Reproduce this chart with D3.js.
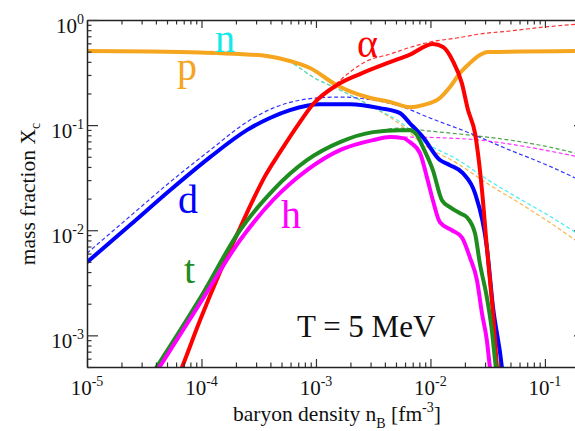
<!DOCTYPE html>
<html>
<head>
<meta charset="utf-8">
<script src="https://cdn.jsdelivr.net/npm/d3@7"></script>
<style>
  html, body { margin: 0; padding: 0; background: #fff; }
  svg { display: block; font-family: "Liberation Serif", "DejaVu Serif", serif; }
</style>
</head>
<body>
<svg id="chart" width="575" height="431"></svg>
<script>
// data: [baryon density n_B (fm^-3), mass fraction X_c]
// solid lines
const protonSolid = [
  [1.00e-5, 0.507], [3.55e-5, 0.501], [9.71e-5, 0.490], [2.17e-4, 0.474], [3.73e-4, 0.454],
  [5.93e-4, 0.407], [8.87e-4, 0.349], [1.52e-3, 0.240], [2.79e-3, 0.185], [4.43e-3, 0.166],
  [6.62e-3, 0.148], [8.59e-3, 0.155], [1.21e-2, 0.181], [1.48e-2, 0.230], [1.81e-2, 0.313],
  [2.21e-2, 0.389], [2.70e-2, 0.464], [3.18e-2, 0.496], [0.202, 0.507]
];
const deuteronSolid = [
  [1.00e-5, 4.96e-3], [2.38e-5, 1.12e-2], [5.31e-5, 2.40e-2], [1.19e-4, 4.96e-2], [2.49e-4, 8.96e-2],
  [3.96e-4, 0.117], [5.93e-4, 0.139], [1.08e-3, 0.158], [1.98e-3, 0.158], [3.62e-3, 0.145],
  [5.42e-3, 0.130], [6.62e-3, 0.104], [8.59e-3, 0.0769], [1.21e-2, 0.0465], [1.48e-2, 0.0416],
  [1.92e-2, 0.0349], [2.45e-2, 0.0225], [3.11e-2, 6.89e-3], [3.52e-2, 1.85e-3], [4.21e-2, 4.95e-4],
  [4.40e-2, 3.00e-4]
];
const tritonSolid = [
  [3.55e-5, 3.98e-4], [9.71e-5, 2.25e-3], [2.17e-4, 1.00e-2], [4.21e-4, 0.0240], [8.34e-4, 0.0464],
  [1.62e-3, 0.0689], [3.15e-3, 0.0858], [5.42e-3, 0.0896], [6.62e-3, 0.0896], [7.62e-3, 0.0803],
  [8.59e-3, 0.0617], [1.05e-2, 0.0373], [1.26e-2, 0.0193], [1.48e-2, 0.0166], [1.81e-2, 0.0145],
  [2.08e-2, 0.0133], [2.45e-2, 9.36e-3], [2.70e-2, 4.85e-3], [3.11e-2, 2.30e-3], [3.44e-2, 1.12e-3],
  [3.73e-2, 4.96e-4], [3.89e-2, 3.73e-4]
];
const helionSolid = [
  [3.77e-5, 3.98e-4], [9.71e-5, 2.02e-3], [2.17e-4, 8.03e-3], [4.21e-4, 0.0193], [8.34e-4, 0.0373],
  [1.62e-3, 0.0578], [3.15e-3, 0.0720], [4.43e-3, 0.0769], [5.75e-3, 0.0752], [6.62e-3, 0.0689],
  [8.10e-3, 0.0541], [9.31e-3, 0.0320], [1.05e-2, 0.0193], [1.21e-2, 0.0119], [1.54e-2, 0.0100],
  [1.88e-2, 8.57e-3], [2.21e-2, 5.53e-3], [2.55e-2, 3.34e-3], [2.82e-2, 1.62e-3], [3.11e-2, 8.96e-4],
  [3.31e-2, 4.96e-4], [3.44e-2, 3.73e-4]
];
const alphaSolid = [
  [6.24e-5, 3.98e-4], [6.76e-5, 4.96e-4], [9.71e-5, 1.39e-3], [1.45e-4, 3.98e-3], [2.17e-4, 1.05e-2],
  [2.76e-4, 1.85e-2], [3.59e-4, 3.27e-2], [4.85e-4, 0.0553], [7.24e-4, 0.107], [9.42e-4, 0.158],
  [1.52e-3, 0.240], [2.42e-3, 0.306], [4.43e-3, 0.398], [6.62e-3, 0.469], [1.05e-2, 0.591],
  [1.29e-2, 0.553], [1.57e-2, 0.407], [1.88e-2, 0.251], [2.13e-2, 0.139], [2.45e-2, 0.0839],
  [2.60e-2, 0.0541], [2.82e-2, 0.0240], [3.11e-2, 6.89e-3], [3.31e-2, 3.34e-3], [3.52e-2, 1.62e-3],
  [3.81e-2, 4.96e-4], [3.97e-2, 2.99e-4]
];

// dashed lines
const neutronDashed = [
  [1.00e-5, 0.507], [3.55e-5, 0.501], [9.71e-5, 0.490], [2.17e-4, 0.474], [3.73e-4, 0.454],
  [5.93e-4, 0.398], [9.42e-4, 0.286], [1.62e-3, 0.216], [3.27e-3, 0.145], [5.42e-3, 0.107],
  [8.59e-3, 0.0704], [1.70e-2, 0.0474], [3.31e-2, 0.0293], [5.47e-2, 0.0211], [0.100, 0.0145],
  [0.202, 8.96e-3]
];
const protonDashed = [
  [1.00e-5, 0.507], [3.55e-5, 0.501], [9.71e-5, 0.490], [2.17e-4, 0.474], [3.73e-4, 0.454],
  [5.93e-4, 0.398], [9.42e-4, 0.286], [1.62e-3, 0.216], [3.27e-3, 0.145], [5.42e-3, 0.102],
  [8.59e-3, 0.0660], [1.70e-2, 0.0435], [3.31e-2, 0.0268], [5.47e-2, 0.0193], [0.100, 0.0127],
  [0.202, 7.52e-3]
];
const deuteronDashed = [
  [1.00e-5, 6.04e-3], [2.38e-5, 1.36e-2], [5.31e-5, 2.87e-2], [1.19e-4, 5.78e-2], [2.49e-4, 0.107],
  [4.21e-4, 0.145], [8.34e-4, 0.177], [1.62e-3, 0.185], [3.15e-3, 0.173], [5.42e-3, 0.152],
  [9.90e-3, 0.117], [2.21e-2, 0.0839], [4.94e-2, 0.0578], [0.100, 0.0425], [0.202, 0.0299]
];
const tritonDashed = [
  [3.55e-5, 3.98e-4], [9.71e-5, 2.25e-3], [2.17e-4, 1.00e-2], [4.21e-4, 0.0240], [8.34e-4, 0.0464],
  [1.62e-3, 0.0689], [3.15e-3, 0.0858], [5.42e-3, 0.0936], [9.90e-3, 0.0877], [2.21e-2, 0.0803],
  [4.94e-2, 0.0720], [0.100, 0.0631], [0.202, 0.0529]
];
const helionDashed = [
  [3.77e-5, 3.98e-4], [9.71e-5, 2.02e-3], [2.17e-4, 8.03e-3], [4.21e-4, 0.0193], [8.34e-4, 0.0373],
  [1.62e-3, 0.0578], [3.15e-3, 0.0720], [4.43e-3, 0.0769], [6.62e-3, 0.0769], [1.48e-2, 0.0752],
  [2.70e-2, 0.0720], [4.94e-2, 0.0660], [0.100, 0.0578], [0.202, 0.0496]
];
const alphaDashed = [
  [3.59e-4, 3.27e-2], [4.85e-4, 0.0553], [7.24e-4, 0.107], [9.42e-4, 0.158], [1.52e-3, 0.251],
  [1.98e-3, 0.320], [2.79e-3, 0.407], [4.43e-3, 0.474], [6.36e-3, 0.541], [9.90e-3, 0.617],
  [1.70e-2, 0.674], [2.70e-2, 0.736], [4.94e-2, 0.786], [0.100, 0.858], [0.202, 0.916]
];

// tick labels
const xMajorTicks = [1e-5, 1e-4, 1e-3, 1e-2, 1e-1];
const xTickExps = ['-5', '-4', '-3', '-2', '-1'];
const yMajorTicks = [1, 1e-1, 1e-2, 1e-3];
const yTickExps = ['0', '-1', '-2', '-3'];

// 配置
const Config = {
    plot: { left: 87, right: 585, top: 20, bottom: 367 },
    xDomain: [1e-5, 0.2239],
    yDomain: [5e-4, 1],
    tick: { major: 8, majorY: 11, minor: 4.5 },
    colors: {
        p: '#f5a51e', n: '#16e8e8', d: '#0000ff', t: '#1f8c1f', h: '#ff00ff', a: '#ff0000'
    },
    solidWidth: 4,
    dashWidth: 1.2,
    dash: '4,2.5'
};

const svg = d3.select('#chart');
const P = Config.plot;

const x = d3.scaleLog().domain(Config.xDomain).range([P.left, P.right]);
const y = d3.scaleLog().domain(Config.yDomain).range([P.bottom, P.top]);

const isMajor = v => Math.abs(Math.log10(v) - Math.round(Math.log10(v))) < 1e-6;

// 1. clip
svg.append('defs').append('clipPath').attr('id', 'clip')
    .append('rect')
    .attr('x', P.left).attr('y', P.top)
    .attr('width', P.right - P.left).attr('height', P.bottom - P.top);

// 2. lines
const line = d3.line()
    .x(d => x(d[0]))
    .y(d => y(d[1]))
    .curve(d3.curveMonotoneX);

const lines = svg.append('g').attr('clip-path', 'url(#clip)');

const dashed = [
    [protonDashed, Config.colors.p],
    [neutronDashed, Config.colors.n],
    [deuteronDashed, Config.colors.d],
    [tritonDashed, Config.colors.t],
    [helionDashed, Config.colors.h],
    [alphaDashed, Config.colors.a]
];
dashed.forEach(([data, color]) => {
    lines.append('path')
        .datum(data)
        .attr('d', line)
        .attr('fill', 'none')
        .attr('stroke', color)
        .attr('stroke-opacity', 0.8)
        .attr('stroke-width', Config.dashWidth)
        .attr('stroke-dasharray', Config.dash);
});

const solid = [
    [protonSolid, Config.colors.p],
    [deuteronSolid, Config.colors.d],
    [alphaSolid, Config.colors.a],
    [tritonSolid, Config.colors.t],
    [helionSolid, Config.colors.h]
];
solid.forEach(([data, color]) => {
    lines.append('path')
        .datum(data)
        .attr('d', line)
        .attr('fill', 'none')
        .attr('stroke', color)
        .attr('stroke-width', Config.solidWidth)
        .attr('stroke-linejoin', 'round');
});

// 3. axes (ticks pointing inward)
function drawAxis(makeAxis, scale, translate, majorLen) {
    const all = scale.ticks();
    const minor = all.filter(v => !isMajor(v));
    const major = all.filter(isMajor);

    svg.append('g')
        .attr('transform', translate)
        .call(makeAxis(scale).tickValues(minor).tickSizeInner(-Config.tick.minor).tickSizeOuter(0).tickFormat(''))
        .call(g => g.select('.domain').remove());

    svg.append('g')
        .attr('transform', translate)
        .call(makeAxis(scale).tickValues(major).tickSizeInner(-majorLen).tickSizeOuter(0).tickFormat(''));
}

drawAxis(d3.axisBottom, x, `translate(0,${P.bottom})`, Config.tick.major);
drawAxis(d3.axisTop, x, `translate(0,${P.top})`, Config.tick.major);
drawAxis(d3.axisLeft, y, `translate(${P.left},0)`, Config.tick.majorY);
drawAxis(d3.axisRight, y, `translate(${P.right},0)`, Config.tick.majorY);

svg.selectAll('.domain').attr('stroke', '#222').attr('stroke-width', 1.5);
svg.selectAll('.tick line').attr('stroke', '#333').attr('stroke-width', 1.2);

// 4. tick labels
xMajorTicks.forEach((v, i) => {
    const t = svg.append('text')
        .attr('x', x(v)).attr('y', P.bottom + 28)
        .attr('text-anchor', 'middle')
        .attr('font-size', 21)
        .attr('fill', '#111');
    t.append('tspan').text('10');
    t.append('tspan').attr('dy', -9).attr('font-size', 14).text(xTickExps[i]);
});

yMajorTicks.forEach((v, i) => {
    const t = svg.append('text')
        .attr('x', P.left - 3).attr('y', y(v) + 12.5)
        .attr('text-anchor', 'end')
        .attr('font-size', 21)
        .attr('fill', '#111');
    t.append('tspan').text('10');
    t.append('tspan').attr('dy', -9).attr('font-size', 14).text(yTickExps[i]);
});

// 5. axis titles
const xt = svg.append('text')
    .attr('x', 337).attr('y', 421)
    .attr('text-anchor', 'middle')
    .attr('font-size', 21.5)
    .attr('fill', '#111');
xt.append('tspan').text('baryon density n');
xt.append('tspan').attr('dy', 7).attr('font-size', 14).text('B');
xt.append('tspan').attr('dy', -7).text(' [fm');
xt.append('tspan').attr('dy', -9).attr('font-size', 14).text('-3');
xt.append('tspan').attr('dy', 9).text(']');

const yt = svg.append('text')
    .attr('transform', 'translate(35,194) rotate(-90)')
    .attr('text-anchor', 'middle')
    .attr('font-size', 21.5)
    .attr('fill', '#111');
yt.append('tspan').text('mass fraction X');
yt.append('tspan').attr('dy', 5).attr('font-size', 14).text('c');

// 6. curve labels
const curveLabels = [
    { text: 'p', color: Config.colors.p, px: 177, py: 80 },
    { text: 'n', color: Config.colors.n, px: 215, py: 52 },
    { text: 'α', color: Config.colors.a, px: 357, py: 57 },
    { text: 'd', color: Config.colors.d, px: 178, py: 213 },
    { text: 't', color: Config.colors.t, px: 184, py: 283 },
    { text: 'h', color: Config.colors.h, px: 281, py: 228 }
];
curveLabels.forEach(l => {
    svg.append('text')
        .attr('x', l.px).attr('y', l.py)
        .attr('font-size', 40)
        .attr('fill', l.color)
        .text(l.text);
});

svg.append('text')
    .attr('x', 297).attr('y', 337)
    .attr('font-size', 31)
    .attr('fill', '#111')
    .text('T = 5 MeV');
</script>
</body>
</html>
